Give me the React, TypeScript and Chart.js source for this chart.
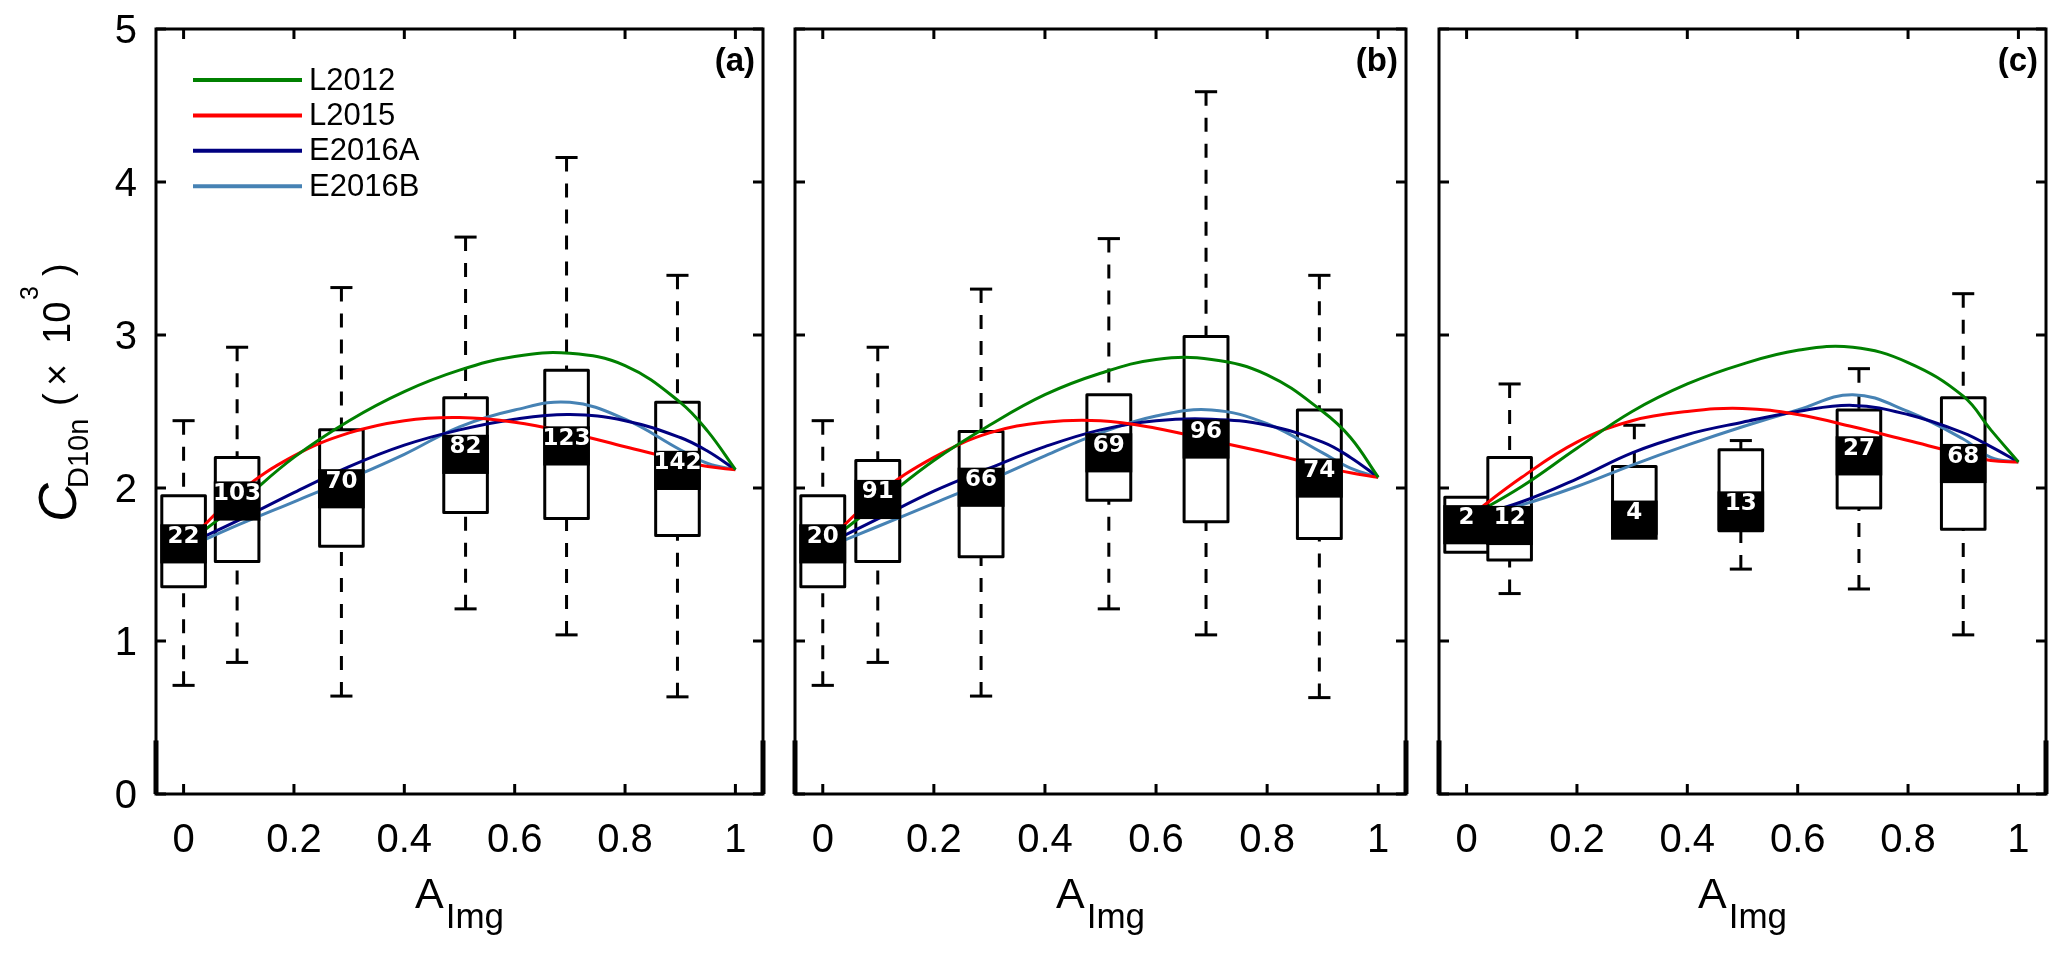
import React, { useEffect, useRef } from "react";
import { Chart, registerables } from "chart.js";

Chart.register(...registerables);

// ---------------- data ----------------
const SERIES_NAMES = ["L2012", "L2015", "E2016A", "E2016B"];
const SERIES_COLORS = ["#008000", "#ff0000", "#000080", "#4682b4"];

const X_TICKS = [0, 0.2, 0.4, 0.6, 0.8, 1];
const X_TICK_LABELS = ["0", "0.2", "0.4", "0.6", "0.8", "1"];
const Y_TICKS = [0, 1, 2, 3, 4, 5];
const Y_TICK_LABELS = ["0", "1", "2", "3", "4", "5"];
const PANEL_TAGS = ["(a)", "(b)", "(c)"];

// sampled x positions of the model curves
const CURVE_X = [0, 0.1, 0.2, 0.3, 0.4, 0.5, 0.6, 0.7, 0.8, 0.9, 0.95, 1.0];

// panel (a)
const A_L2012 = [1.62, 1.9, 2.2, 2.44, 2.63, 2.77, 2.86, 2.88, 2.8, 2.56, 2.37, 2.12];
const A_L2015 = [1.62, 1.97, 2.21, 2.36, 2.44, 2.46, 2.43, 2.36, 2.27, 2.18, 2.14, 2.12];
const A_E2016A = [1.62, 1.79, 1.97, 2.14, 2.28, 2.38, 2.45, 2.48, 2.44, 2.33, 2.24, 2.12];
const A_E2016B = [1.6, 1.76, 1.91, 2.06, 2.22, 2.4, 2.51, 2.56, 2.45, 2.25, 2.16, 2.12];
const A_POS = [0.0, 0.097, 0.286, 0.511, 0.694, 0.895];
const A_COUNT = [22, 103, 70, 82, 123, 142];
const A_MIN = [0.71, 0.86, 0.64, 1.21, 1.04, 0.635];
const A_Q1 = [1.355, 1.52, 1.62, 1.84, 1.8, 1.69];
const A_MED = [1.635, 1.915, 1.995, 2.22, 2.275, 2.115];
const A_Q3 = [1.95, 2.2, 2.38, 2.59, 2.77, 2.56];
const A_MAX = [2.44, 2.92, 3.31, 3.64, 4.16, 3.39];

// panel (b)
const B_L2012 = [1.62, 1.9, 2.18, 2.41, 2.61, 2.75, 2.84, 2.84, 2.74, 2.5, 2.33, 2.07];
const B_L2015 = [1.62, 1.96, 2.2, 2.36, 2.43, 2.44, 2.39, 2.31, 2.23, 2.14, 2.1, 2.07];
const B_E2016A = [1.62, 1.8, 1.98, 2.13, 2.27, 2.38, 2.44, 2.45, 2.41, 2.3, 2.2, 2.07];
const B_E2016B = [1.6, 1.75, 1.9, 2.05, 2.21, 2.36, 2.47, 2.51, 2.42, 2.23, 2.13, 2.07];
const B_POS = [0.0, 0.099, 0.285, 0.515, 0.69, 0.894];
const B_COUNT = [20, 91, 66, 69, 96, 74];
const B_MIN = [0.71, 0.86, 0.64, 1.21, 1.04, 0.63];
const B_Q1 = [1.355, 1.52, 1.55, 1.92, 1.78, 1.67];
const B_MED = [1.635, 1.925, 2.005, 2.23, 2.32, 2.065];
const B_Q3 = [1.95, 2.18, 2.37, 2.61, 2.99, 2.51];
const B_MAX = [2.44, 2.92, 3.3, 3.63, 4.59, 3.39];

// panel (c)
const C_L2012 = [1.8, 2.01, 2.26, 2.5, 2.68, 2.81, 2.9, 2.92, 2.82, 2.6, 2.38, 2.17];
const C_L2015 = [1.8, 2.07, 2.3, 2.44, 2.5, 2.52, 2.48, 2.4, 2.31, 2.22, 2.18, 2.17];
const C_E2016A = [1.8, 1.91, 2.06, 2.23, 2.35, 2.43, 2.5, 2.54, 2.48, 2.36, 2.27, 2.17];
const C_E2016B = [1.8, 1.89, 2.01, 2.15, 2.28, 2.4, 2.51, 2.61, 2.5, 2.32, 2.2, 2.17];
const C_POS = [0.0, 0.078, 0.304, 0.497, 0.711, 0.9];
const C_COUNT = [2, 12, 4, 13, 27, 68];
const C_MIN = [1.58, 1.31, 1.7, 1.47, 1.34, 1.04];
const C_Q1 = [1.58, 1.53, 1.7, 1.72, 1.87, 1.73];
const C_MED = [1.76, 1.755, 1.79, 1.85, 2.21, 2.16];
const C_Q3 = [1.94, 2.2, 2.14, 2.25, 2.51, 2.59];
const C_MAX = [1.94, 2.68, 2.41, 2.31, 2.78, 3.27];

// ---------------- style ----------------
const FIG_W = 2067;
const FIG_H = 956;
const PAD_TOP = 29;
const PAD_BOTTOM = 162;
const BOX_W = 0.079; // data units
const CAP_W = 0.04; // data units
const BAND_HALF = 0.128; // data units
const FONT = "'Liberation Sans', Arial, Helvetica, sans-serif";

type Spec = {
  idx: number;
  pos: number[];
  count: number[];
  min: number[];
  q1: number[];
  med: number[];
  q3: number[];
  max: number[];
  curves: number[][];
  left: number;
  width: number;
  padL: number;
  padR: number;
  first: boolean;
};

const PANELS: Spec[] = [
  {
    idx: 0, pos: A_POS, count: A_COUNT, min: A_MIN, q1: A_Q1, med: A_MED, q3: A_Q3, max: A_MAX,
    curves: [A_L2012, A_L2015, A_E2016A, A_E2016B],
    left: 0, width: 779, padL: 156, padR: 16, first: true,
  },
  {
    idx: 1, pos: B_POS, count: B_COUNT, min: B_MIN, q1: B_Q1, med: B_MED, q3: B_Q3, max: B_MAX,
    curves: [B_L2012, B_L2015, B_E2016A, B_E2016B],
    left: 779, width: 640, padL: 16, padR: 13, first: false,
  },
  {
    idx: 2, pos: C_POS, count: C_COUNT, min: C_MIN, q1: C_Q1, med: C_MED, q3: C_Q3, max: C_MAX,
    curves: [C_L2012, C_L2015, C_E2016A, C_E2016B],
    left: 1419, width: 648, padL: 20, padR: 21, first: false,
  },
];

function line(ctx: CanvasRenderingContext2D, x1: number, y1: number, x2: number, y2: number) {
  ctx.beginPath();
  ctx.moveTo(x1, y1);
  ctx.lineTo(x2, y2);
  ctx.stroke();
}

function makePlugin(s: Spec) {
  return {
    id: "boxfigure",
    beforeDatasetsDraw(chart: any) {
      const { ctx, scales } = chart;
      const xs = scales.x;
      const ys = scales.y;
      ctx.save();
      ctx.strokeStyle = "#000";
      ctx.lineJoin = "round";
      for (let i = 0; i < s.pos.length; i++) {
        const cx = xs.getPixelForValue(s.pos[i]);
        const x0 = xs.getPixelForValue(s.pos[i] - BOX_W / 2);
        const x1 = xs.getPixelForValue(s.pos[i] + BOX_W / 2);
        const c0 = xs.getPixelForValue(s.pos[i] - CAP_W / 2);
        const c1 = xs.getPixelForValue(s.pos[i] + CAP_W / 2);
        const yQ1 = ys.getPixelForValue(s.q1[i]);
        const yQ3 = ys.getPixelForValue(s.q3[i]);
        const yMin = ys.getPixelForValue(s.min[i]);
        const yMax = ys.getPixelForValue(s.max[i]);
        ctx.lineWidth = 3;
        if (s.max[i] > s.q3[i]) {
          ctx.setLineDash([14, 12]);
          line(ctx, cx, yMax, cx, yQ3);
          ctx.setLineDash([]);
          line(ctx, c0, yMax, c1, yMax);
        }
        if (s.min[i] < s.q1[i]) {
          ctx.setLineDash([14, 12]);
          line(ctx, cx, yMin, cx, yQ1);
          ctx.setLineDash([]);
          line(ctx, c0, yMin, c1, yMin);
        }
        ctx.setLineDash([]);
        ctx.fillStyle = "#fff";
        ctx.fillRect(x0, yQ3, x1 - x0, yQ1 - yQ3);
        ctx.strokeRect(x0, yQ3, x1 - x0, yQ1 - yQ3);
      }
      ctx.restore();
    },
    afterDatasetsDraw(chart: any) {
      const { ctx, scales } = chart;
      const xs = scales.x;
      const ys = scales.y;
      ctx.save();
      for (let i = 0; i < s.pos.length; i++) {
        const x0 = xs.getPixelForValue(s.pos[i] - BOX_W / 2) - 1.5;
        const x1 = xs.getPixelForValue(s.pos[i] + BOX_W / 2) + 1.5;
        const yT = ys.getPixelForValue(s.med[i] + BAND_HALF);
        const yB = ys.getPixelForValue(s.med[i] - BAND_HALF);
        ctx.fillStyle = "#000";
        ctx.fillRect(x0, yT, x1 - x0, yB - yT);
        ctx.fillStyle = "#fff";
        ctx.font = "bold 23px 'DejaVu Sans', sans-serif";
        ctx.textAlign = "center";
        ctx.textBaseline = "middle";
        ctx.fillText(String(s.count[i]), xs.getPixelForValue(s.pos[i]), ys.getPixelForValue(s.med[i] + 0.052) + 1);
      }
      ctx.restore();
    },
    afterDraw(chart: any) {
      const { ctx, scales, chartArea } = chart;
      const { left, top, right, bottom } = chartArea;
      const xs = scales.x;
      const ys = scales.y;
      ctx.save();
      ctx.strokeStyle = "#000";
      ctx.fillStyle = "#000";
      ctx.lineWidth = 3;
      ctx.setLineDash([]);
      // frame
      ctx.strokeRect(left, top, right - left, bottom - top);
      ctx.lineWidth = 5;
      const yThick = ys.getPixelForValue(0.35);
      line(ctx, left, bottom, left, yThick);
      line(ctx, right, bottom, right, yThick);
      ctx.lineWidth = 3;
      // ticks
      X_TICKS.forEach((t) => {
        const px = xs.getPixelForValue(t);
        line(ctx, px, bottom, px, bottom - 10);
        line(ctx, px, top, px, top + 10);
      });
      Y_TICKS.forEach((t) => {
        const py = ys.getPixelForValue(t);
        line(ctx, left, py, left + 10, py);
        line(ctx, right, py, right - 10, py);
      });
      // x tick labels
      ctx.font = `40px ${FONT}`;
      ctx.textAlign = "center";
      ctx.textBaseline = "alphabetic";
      X_TICKS.forEach((t, i) => {
        ctx.fillText(X_TICK_LABELS[i], xs.getPixelForValue(t), bottom + 58);
      });
      // y tick labels
      if (s.first) {
        ctx.textAlign = "right";
        ctx.textBaseline = "middle";
        Y_TICKS.forEach((t, i) => {
          ctx.fillText(Y_TICK_LABELS[i], left - 19, ys.getPixelForValue(t) + 3);
        });
      }
      // panel tag
      ctx.font = `bold 33px ${FONT}`;
      ctx.textAlign = "right";
      ctx.textBaseline = "alphabetic";
      ctx.fillText(PANEL_TAGS[s.idx], right - 8, top + 42);
      // x title: A_Img
      const cxm = (left + right) / 2;
      ctx.font = `43px ${FONT}`;
      const wA = ctx.measureText("A").width;
      ctx.font = `35px ${FONT}`;
      const wI = ctx.measureText("Img").width;
      const start = cxm - (wA + 2 + wI) / 2;
      ctx.textAlign = "left";
      ctx.font = `43px ${FONT}`;
      ctx.fillText("A", start, bottom + 114);
      ctx.font = `35px ${FONT}`;
      ctx.fillText("Img", start + wA + 2, bottom + 134);
      // y title and legend on the first panel
      if (s.first) {
        ctx.save();
        ctx.translate(0, top + 493);
        ctx.rotate(-Math.PI / 2);
        ctx.textAlign = "left";
        ctx.textBaseline = "alphabetic";
        const bx = left - 80;
        ctx.font = `italic 54px ${FONT}`;
        ctx.fillText("C", 0, bx);
        ctx.font = `29px ${FONT}`;
        ctx.fillText("D10n", 34, bx + 12);
        ctx.font = `38px ${FONT}`;
        ctx.fillText("(", 116, bx - 6);
        ctx.fillText("\u00d7", 136, bx - 6);
        ctx.fillText("10", 178, bx - 6);
        ctx.font = `25px ${FONT}`;
        ctx.fillText("3", 222, bx - 38);
        ctx.font = `38px ${FONT}`;
        ctx.fillText(")", 246, bx - 6);
        ctx.restore();

        // legend
        ctx.lineWidth = 4;
        ctx.font = `31px ${FONT}`;
        ctx.textAlign = "left";
        ctx.textBaseline = "middle";
        SERIES_NAMES.forEach((name, i) => {
          const yy = top + 51 + i * 35.4;
          ctx.strokeStyle = SERIES_COLORS[i];
          line(ctx, left + 37, yy, left + 146, yy);
          ctx.fillStyle = "#000";
          ctx.fillText(name, left + 153, yy + 1);
        });
      }
      ctx.restore();
    },
  };
}

function Panel({ spec }: { spec: Spec }) {
  const ref = useRef<HTMLCanvasElement | null>(null);
  useEffect(() => {
    if (!ref.current) return;
    const chart = new Chart(ref.current, {
      type: "line",
      data: {
        datasets: SERIES_NAMES.map((name, i) => ({
          label: name,
          data: CURVE_X.map((x, j) => ({ x, y: spec.curves[i][j] })),
          borderColor: SERIES_COLORS[i],
          backgroundColor: SERIES_COLORS[i],
          borderWidth: 3,
          pointRadius: 0,
          fill: false,
          tension: 0.4,
        })),
      },
      options: {
        responsive: false,
        animation: false,
        events: [],
        layout: { padding: { left: spec.padL, right: spec.padR, top: PAD_TOP, bottom: PAD_BOTTOM } },
        scales: {
          x: { type: "linear", min: -0.05, max: 1.05, display: false },
          y: { type: "linear", min: 0, max: 5, display: false },
        },
        plugins: { legend: { display: false }, tooltip: { enabled: false } },
      },
      plugins: [makePlugin(spec)],
    } as any);
    return () => chart.destroy();
  }, [spec]);
  return (
    <canvas
      ref={ref}
      width={spec.width}
      height={FIG_H}
      style={{ position: "absolute", left: spec.left, top: 0, width: spec.width, height: FIG_H }}
    />
  );
}

export default function App() {
  useEffect(() => {
    document.body.style.margin = "0";
    document.body.style.overflow = "hidden";
    document.body.style.background = "#fff";
  }, []);
  return (
    <div style={{ position: "relative", width: FIG_W, height: FIG_H, background: "#fff" }}>
      {PANELS.map((p) => (
        <Panel key={p.idx} spec={p} />
      ))}
    </div>
  );
}
